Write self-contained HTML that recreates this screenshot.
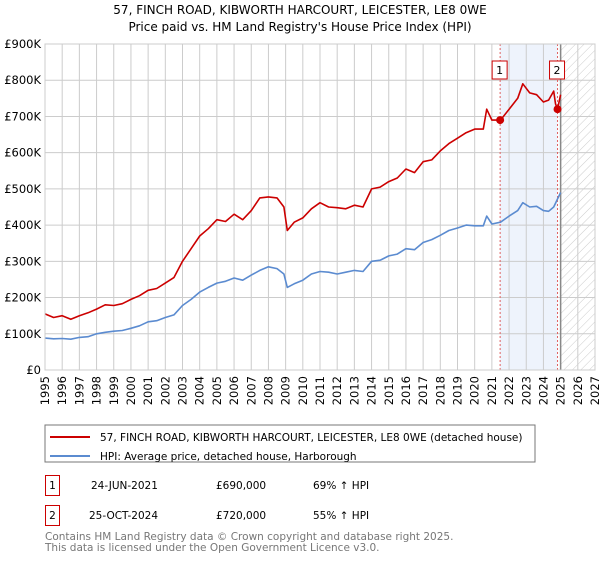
<!DOCTYPE html>
<html><head><meta charset="utf-8"><style>
body{margin:0;background:#fff;font-family:"DejaVu Sans","Liberation Sans",sans-serif;}
svg text{font-family:"DejaVu Sans","Liberation Sans",sans-serif;}
</style></head><body>
<svg id="c" width="600" height="560" xmlns="http://www.w3.org/2000/svg">
<defs><pattern id="hatch" width="6" height="6" patternUnits="userSpaceOnUse" patternTransform="rotate(45)"><line x1="0" y1="0" x2="0" y2="6" stroke="#ccc" stroke-width="1"/></pattern></defs>
<text x="300" y="14" text-anchor="middle" font-size="12" fill="#000">57, FINCH ROAD, KIBWORTH HARCOURT, LEICESTER, LE8 0WE</text>
<text x="300" y="31" text-anchor="middle" font-size="12" fill="#000">Price paid vs. HM Land Registry's House Price Index (HPI)</text>
<g id="grid"></g><g id="plot"></g><g id="axes"></g>
<rect x="45" y="425" width="490" height="37" fill="#fff" stroke="#777"/>
<line x1="50" y1="437" x2="90" y2="437" stroke="#cc0000" stroke-width="2"/>
<text x="100" y="441" font-size="10.5">57, FINCH ROAD, KIBWORTH HARCOURT, LEICESTER, LE8 0WE (detached house)</text>
<line x1="50" y1="456" x2="90" y2="456" stroke="#5b8bd0" stroke-width="2"/>
<text x="100" y="460" font-size="10.5">HPI: Average price, detached house, Harborough</text>
<g>
<rect x="45.5" y="475.5" width="14" height="20" fill="none" stroke="#cc0000"/>
<text x="52.5" y="489" text-anchor="middle" font-size="10.5">1</text>
<text x="91" y="489" font-size="10.5">24-JUN-2021</text>
<text x="216" y="489" font-size="10.5">£690,000</text>
<text x="313" y="489" font-size="10.5">69% ↑ HPI</text></g>
<g>
<rect x="45.5" y="505.5" width="14" height="20" fill="none" stroke="#cc0000"/>
<text x="52.5" y="519" text-anchor="middle" font-size="10.5">2</text>
<text x="89" y="519" font-size="10.5">25-OCT-2024</text>
<text x="216" y="519" font-size="10.5">£720,000</text>
<text x="313" y="519" font-size="10.5">55% ↑ HPI</text></g>
<text x="45" y="540" font-size="10.5" fill="#777">Contains HM Land Registry data © Crown copyright and database right 2025.</text>
<text x="45" y="551" font-size="10.5" fill="#777">This data is licensed under the Open Government Licence v3.0.</text>
</svg>
<script>
const hpiYears=[1995,1995.5,1996,1996.5,1997,1997.5,1998,1998.5,1999,1999.5,2000,2000.5,2001,2001.5,2002,2002.5,2003,2003.5,2004,2004.5,2005,2005.5,2006,2006.5,2007,2007.5,2008,2008.5,2008.9,2009.1,2009.5,2010,2010.5,2011,2011.5,2012,2012.5,2013,2013.5,2014,2014.5,2015,2015.5,2016,2016.5,2017,2017.5,2018,2018.5,2019,2019.5,2020,2020.5,2020.7,2021,2021.5,2022,2022.5,2022.8,2023.2,2023.6,2024,2024.3,2024.6,2025];
const hpiValues=[88,86,87,85,90,92,100,104,107,109,115,122,133,136,145,152,178,195,215,228,240,245,254,248,262,275,285,280,265,228,238,248,265,272,270,265,270,275,272,300,303,315,320,335,332,352,360,372,385,392,400,398,398,425,403,408,425,440,462,450,452,440,438,450,490];
const ppYears=[1995,1995.5,1996,1996.5,1997,1997.5,1998,1998.5,1999,1999.5,2000,2000.5,2001,2001.5,2002,2002.5,2003,2003.5,2004,2004.5,2005,2005.5,2006,2006.5,2007,2007.5,2008,2008.5,2008.9,2009.1,2009.5,2010,2010.5,2011,2011.5,2012,2012.5,2013,2013.5,2014,2014.5,2015,2015.5,2016,2016.5,2017,2017.5,2018,2018.5,2019,2019.5,2020,2020.5,2020.7,2021,2021.5,2022,2022.5,2022.8,2023.2,2023.6,2024,2024.3,2024.6,2024.7,2024.82,2025];
const ppValues=[155,145,150,140,150,158,168,180,178,183,195,205,220,225,240,255,300,335,370,390,415,410,430,415,440,475,478,475,450,385,408,420,445,462,450,448,445,455,450,500,505,520,530,555,545,575,580,605,625,640,655,665,665,720,690,690,720,750,790,765,760,740,745,770,735,720,760];
const yTicks=[0,100,200,300,400,500,600,700,800,900];
const yTickLabels=["£0","£100K","£200K","£300K","£400K","£500K","£600K","£700K","£800K","£900K"];
const xTicks=[1995,1996,1997,1998,1999,2000,2001,2002,2003,2004,2005,2006,2007,2008,2009,2010,2011,2012,2013,2014,2015,2016,2017,2018,2019,2020,2021,2022,2023,2024,2025,2026,2027];
const saleYears=[2021.48,2024.82];
const saleValues=[690,720];
const saleLabels=["1","2"];
const X0=45,X1=595,Y0=370,Y1=44;
const x=v=>X0+(v-1995)/(2027-1995)*(X1-X0);
const y=v=>Y0-v/900*(Y0-Y1);
const NS="http://www.w3.org/2000/svg";
function mk(t,a,p){const e=document.createElementNS(NS,t);for(const k in a)e.setAttribute(k,a[k]);p.appendChild(e);return e;}
const grid=document.getElementById('grid'),plot=document.getElementById('plot'),axes=document.getElementById('axes');
let sh=mk('rect',{x:x(saleYears[0]),y:Y1,width:x(saleYears[1])-x(saleYears[0]),height:Y0-Y1,fill:'#eef3fc'},grid);


let ht=mk('rect',{x:x(2025),y:Y1,width:X1-x(2025),height:Y0-Y1,fill:'url(#hatch)'},grid);


yTicks.forEach((t,i)=>{
 mk('line',{x1:X0,x2:X1,y1:y(t),y2:y(t),stroke:'#ccc'},grid);
 const tx=mk('text',{x:X0-4,y:y(t)+4,'text-anchor':'end','font-size':'11.5'},axes);
 tx.textContent=yTickLabels[i];
 
 
});
xTicks.forEach(t=>{
 mk('line',{x1:x(t),x2:x(t),y1:Y1,y2:Y0,stroke:'#ccc'},grid);
 const tx=mk('text',{x:0,y:0,'text-anchor':'end','font-size':'11.5',transform:`translate(${x(t)+4},${Y0+6}) rotate(-90)`},axes);
 tx.textContent=t;
 
 
});
mk('line',{x1:x(2025),x2:x(2025),y1:Y1,y2:Y0,stroke:'#888','stroke-width':1.5},grid);
saleYears.forEach((s,i)=>{
 const l=mk('line',{x1:x(s),x2:x(s),y1:Y1,y2:Y0,stroke:'#e06060','stroke-dasharray':'2,2'},grid);
 
 
});
function path(xs,vs,col,name){
 const d=xs.map((v,i)=>(i?'L':'M')+x(v).toFixed(1)+','+y(vs[i]).toFixed(1)).join('');
 const p=mk('path',{d:d,fill:'none',stroke:col,'stroke-width':1.6,'stroke-linejoin':'round'},plot);
 
 
}
path(hpiYears,hpiValues,'#5b8bd0','hpi-line');
path(ppYears,ppValues,'#cc0000','price-paid-line');
saleYears.forEach((s,i)=>{
 const c=mk('circle',{cx:x(s),cy:y(saleValues[i]),r:4,fill:'#cc0000'},plot);
 
 
 const b=mk('rect',{x:x(s)-8,y:61,width:15,height:18,fill:'#fff',stroke:'#cc0000'},plot);
 
 
 const t=mk('text',{x:x(s)-0.5,y:74,'text-anchor':'middle','font-size':'11'},plot);
 t.textContent=saleLabels[i];
 
 
});
mk('rect',{x:X0,y:Y1,width:X1-X0,height:Y0-Y1,fill:'none',stroke:'#ccc'},axes);
</script>
</body></html>
